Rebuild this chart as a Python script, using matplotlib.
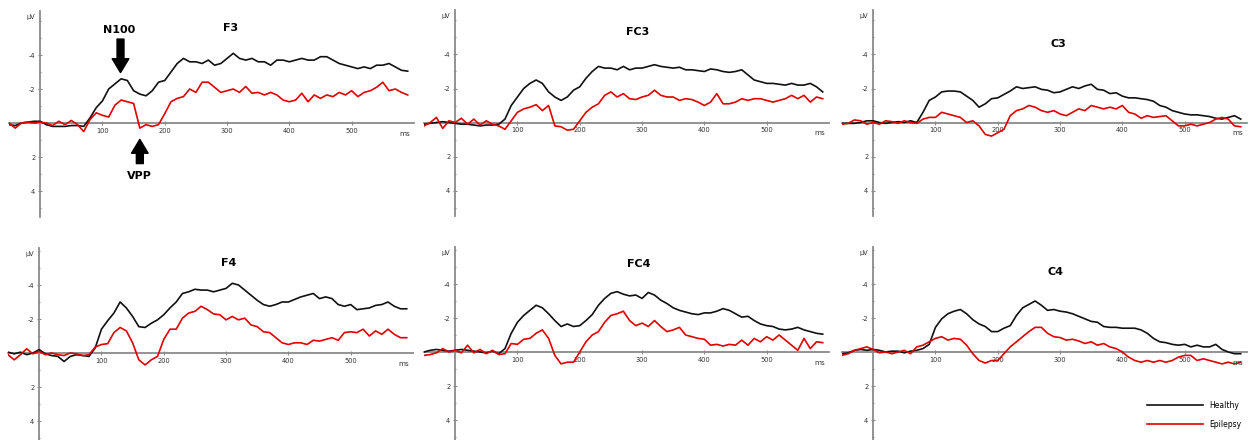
import numpy as np
import matplotlib
matplotlib.use('Agg')
from matplotlib import pyplot as plt

# время, мс (шаг 10 мс)
t_ms = np.arange(-50, 600, 10)

# значения в мкВ (негатив вверх)
f3_healthy = [0.1, 0.15, 0.0, -0.05, -0.1, -0.1, 0.1, 0.2, 0.2, 0.2,
              0.15, 0.15, 0.2, -0.3, -0.9, -1.3, -2.0, -2.3, -2.6, -2.5,
              -1.9, -1.7, -1.6, -1.9, -2.4, -2.5, -3.0, -3.5, -3.8, -3.6,
              -3.6, -3.5, -3.7, -3.4, -3.5, -3.8, -4.1, -3.8, -3.7, -3.8,
              -3.6, -3.6, -3.4, -3.7, -3.7, -3.6, -3.7, -3.8, -3.7, -3.7,
              -3.9, -3.9, -3.7, -3.5, -3.4, -3.3, -3.2, -3.3, -3.2, -3.4,
              -3.4, -3.5, -3.3, -3.1, -3.05]
f3_epilepsy = [0.0, 0.3, 0.0, -0.05, 0.0, -0.05, 0.0, 0.15, -0.1, 0.1,
               -0.15, 0.1, 0.5, -0.2, -0.6, -0.45, -0.35, -1.05, -1.35, -1.25,
               -1.15, 0.3, 0.1, 0.2, 0.1, -0.55, -1.25, -1.45, -1.55, -2.0,
               -1.8, -2.4, -2.4, -2.1, -1.8, -1.9, -2.0, -1.8, -2.15, -1.75,
               -1.8, -1.65, -1.8, -1.65, -1.35, -1.25, -1.35, -1.75, -1.25, -1.65,
               -1.45, -1.65, -1.55, -1.8, -1.65, -1.9, -1.55, -1.8, -1.9, -2.1,
               -2.4, -1.9, -2.0, -1.8, -1.65]

fc3_healthy = [0.1, 0.05, 0.0, -0.05, 0.0, 0.05, 0.1, 0.1, 0.15, 0.2,
               0.15, 0.15, 0.1, -0.2, -1.0, -1.5, -2.0, -2.3, -2.5, -2.3,
               -1.8, -1.5, -1.3, -1.5, -1.9, -2.1, -2.6, -3.0, -3.3, -3.2,
               -3.2, -3.1, -3.3, -3.1, -3.2, -3.2, -3.3, -3.4, -3.3, -3.25,
               -3.2, -3.25, -3.1, -3.1, -3.05, -3.0, -3.15, -3.1, -3.0, -2.95,
               -3.0, -3.1, -2.8, -2.5, -2.4, -2.3, -2.3, -2.25, -2.2, -2.3,
               -2.2, -2.2, -2.3, -2.1, -1.8]
fc3_epilepsy = [0.2, 0.0, -0.3, 0.35, -0.1, 0.0, -0.25, 0.1, -0.2, 0.15,
                -0.1, 0.1, 0.2, 0.4, -0.1, -0.6, -0.8, -0.9, -1.05, -0.7,
                -1.0, 0.2, 0.25, 0.45, 0.4, -0.1, -0.6, -0.9, -1.1, -1.6,
                -1.8, -1.5, -1.7, -1.4, -1.35, -1.5, -1.6, -1.9, -1.6, -1.5,
                -1.5, -1.3, -1.4, -1.35, -1.2, -1.0, -1.2, -1.7, -1.1, -1.1,
                -1.2, -1.4, -1.3, -1.4, -1.4, -1.3, -1.2, -1.3, -1.4, -1.6,
                -1.4, -1.6, -1.2, -1.5, -1.4]

c3_healthy = [0.05, 0.05, 0.05, 0.0, -0.1, -0.1, 0.0, 0.05, 0.0, -0.05,
              0.0, -0.1, 0.0, -0.6, -1.3, -1.5, -1.8, -1.85, -1.85, -1.8,
              -1.55, -1.3, -0.9, -1.1, -1.4, -1.45, -1.65, -1.85, -2.1, -2.0,
              -2.05, -2.1, -1.95, -1.9, -1.75, -1.8, -1.95, -2.1, -2.0, -2.15,
              -2.25, -1.95, -1.9, -1.7, -1.75, -1.55, -1.45, -1.45, -1.4, -1.35,
              -1.25, -1.0, -0.9, -0.7, -0.6, -0.5, -0.45, -0.45, -0.4, -0.35,
              -0.25, -0.2, -0.3, -0.4, -0.2]
c3_epilepsy = [0.1, 0.05, -0.15, -0.1, 0.1, 0.0, 0.1, -0.1, -0.05, 0.05,
               -0.1, 0.0, 0.05, -0.2, -0.3, -0.3, -0.6, -0.5, -0.4, -0.3,
               0.0, -0.1, 0.2, 0.7, 0.8, 0.6, 0.4, -0.4, -0.7, -0.8,
               -1.0, -0.9, -0.7, -0.6, -0.7, -0.5, -0.4, -0.6, -0.8, -0.7,
               -1.0, -0.9, -0.8, -0.9, -0.8, -1.0, -0.6, -0.5, -0.25, -0.4,
               -0.3, -0.35, -0.4, -0.1, 0.2, 0.2, 0.1, 0.2, 0.1, 0.0,
               -0.2, -0.3, -0.2, 0.2, 0.25]

f4_healthy = [-0.05, 0.05, -0.05, 0.1, 0.0, -0.2, 0.05, 0.15, 0.2, 0.5,
              0.2, 0.1, 0.15, 0.2, -0.3, -1.4, -1.9, -2.35, -3.0, -2.65,
              -2.15, -1.55, -1.5, -1.75, -1.95, -2.25, -2.65, -3.0, -3.5, -3.6,
              -3.75, -3.7, -3.7, -3.6, -3.7, -3.8, -4.1, -4.0, -3.7, -3.4,
              -3.1, -2.85, -2.75, -2.85, -3.0, -3.0, -3.15, -3.3, -3.4, -3.5,
              -3.2, -3.3, -3.2, -2.85, -2.75, -2.85, -2.55, -2.6, -2.65, -2.8,
              -2.85, -3.0, -2.75, -2.6, -2.6]
f4_epilepsy = [0.1, 0.4, 0.1, -0.25, 0.05, -0.1, 0.1, 0.0, 0.1, 0.15,
               0.0, 0.05, 0.15, 0.1, -0.35, -0.5, -0.55, -1.2, -1.5, -1.3,
               -0.6, 0.4, 0.7, 0.4, 0.2, -0.8, -1.4, -1.4, -2.05, -2.35,
               -2.45, -2.75, -2.55, -2.3, -2.25, -1.95, -2.15, -1.95, -2.05, -1.65,
               -1.55, -1.25, -1.2, -0.9, -0.6, -0.5, -0.6, -0.6, -0.5, -0.75,
               -0.7, -0.8, -0.9, -0.75, -1.2, -1.25, -1.2, -1.4, -1.0, -1.3,
               -1.1, -1.4, -1.1, -0.9, -0.9]

fc4_healthy = [0.0, -0.1, -0.15, -0.1, -0.05, -0.1, -0.15, -0.1, -0.05, 0.0,
               0.05, -0.05, 0.1, -0.2, -1.1, -1.75, -2.15, -2.45, -2.75, -2.6,
               -2.25, -1.85, -1.5, -1.65, -1.5, -1.55, -1.85, -2.2, -2.75, -3.15,
               -3.45, -3.55, -3.4, -3.3, -3.35, -3.15, -3.5, -3.35, -3.05, -2.85,
               -2.6, -2.45, -2.35, -2.25, -2.2, -2.3, -2.3, -2.4, -2.55, -2.45,
               -2.25, -2.05, -2.1, -1.85, -1.65, -1.55, -1.5, -1.35, -1.3, -1.35,
               -1.45, -1.3, -1.2, -1.1, -1.05]
fc4_epilepsy = [0.2, 0.15, 0.05, -0.2, 0.0, -0.1, 0.05, -0.4, 0.05, -0.15,
                0.1, -0.1, 0.15, 0.1, -0.5, -0.45, -0.75, -0.8, -1.1, -1.3,
                -0.8, 0.2, 0.7, 0.6, 0.6, 0.0, -0.6, -1.0, -1.2, -1.75,
                -2.15, -2.25, -2.4, -1.85, -1.55, -1.7, -1.5, -1.85, -1.5, -1.2,
                -1.3, -1.45, -1.0, -0.9, -0.8, -0.75, -0.4, -0.45, -0.35, -0.45,
                -0.4, -0.7, -0.4, -0.8, -0.6, -0.9, -0.7, -1.0, -0.7, -0.4,
                -0.1, -0.8, -0.2, -0.6, -0.55]

c4_healthy = [0.1, 0.05, -0.1, -0.15, -0.1, -0.15, -0.1, 0.0, -0.05, -0.05,
              0.05, -0.05, -0.1, -0.2, -0.45, -1.45, -1.95, -2.25, -2.4, -2.5,
              -2.25, -1.9, -1.65, -1.5, -1.2, -1.2, -1.4, -1.55, -2.15, -2.6,
              -2.8, -3.0, -2.75, -2.45, -2.5, -2.4, -2.35, -2.25, -2.1, -1.95,
              -1.8, -1.75, -1.5, -1.45, -1.45, -1.4, -1.4, -1.4, -1.3, -1.1,
              -0.8, -0.6, -0.55, -0.45, -0.4, -0.45, -0.3, -0.4, -0.3, -0.3,
              -0.45, -0.15, 0.0, 0.1, 0.1]
c4_epilepsy = [0.2, 0.1, -0.1, -0.2, -0.3, -0.15, 0.05, 0.0, 0.1, 0.0,
               -0.1, 0.1, -0.3, -0.4, -0.6, -0.8, -0.9, -0.7, -0.8, -0.75,
               -0.4, 0.1, 0.5, 0.65, 0.5, 0.5, 0.1, -0.3, -0.6, -0.9,
               -1.2, -1.45, -1.45, -1.1, -0.9, -0.85, -0.7, -0.75, -0.65, -0.5,
               -0.6, -0.4, -0.5, -0.3, -0.2, 0.0, 0.3, 0.5, 0.6, 0.5,
               0.6, 0.5, 0.6, 0.5, 0.3, 0.2, 0.2, 0.5, 0.4, 0.5,
               0.6, 0.7, 0.6, 0.7, 0.6]

titles = ['F3', 'FC3', 'C3', 'F4', 'FC4', 'C4']
healthy = [f3_healthy, fc3_healthy, c3_healthy, f4_healthy, fc4_healthy, c4_healthy]
epilepsy = [f3_epilepsy, fc3_epilepsy, c3_epilepsy, f4_epilepsy, fc4_epilepsy, c4_epilepsy]
x_ticks = [100, 200, 300, 400, 500]
y_ticks = [-4, -2, 2, 4]

# раскладка в пикселях: левый край осей, положение нуля, пределы по y (мкВ)
W, H = 1253, 440
lefts = [9, 424, 842, 8, 424, 842]
zero_px = [123, 122.5, 122.5, 353, 352, 352]
ylims = [(5.5, -6.6)] * 3 + [(5.3, -6.2)] * 3
title_pos = [(305, -5.6), (293, -5.3), (297, -4.6), (305, -5.3), (295, -5.2), (293, -4.7)]
px_ms = 0.623
px_uv = 17.0

fig = plt.figure(figsize=(W / 100, H / 100), dpi=100)
grey = '#8a8a8a'
axes = []
for i in range(6):
    lo, hi = ylims[i]
    top = zero_px[i] + hi * px_uv
    bot = zero_px[i] + lo * px_uv
    w = 650 * px_ms
    ax = fig.add_axes([lefts[i] / W, 1 - bot / H, w / W, (bot - top) / H])
    ax.set_xlim(-50, 600)
    ax.set_ylim(lo, hi)
    ax.patch.set_alpha(0)

    ax.plot(t_ms, healthy[i], color='#111111', lw=1.2, zorder=3, label='Healthy')
    ax.plot(t_ms, epilepsy[i], color='#e00000', lw=1.2, zorder=3, label='Epilepsy')

    for s in ['top', 'right']:
        ax.spines[s].set_visible(False)
    ax.spines['left'].set_position(('data', 0))
    ax.spines['bottom'].set_position(('data', 0))
    for s in ['left', 'bottom']:
        ax.spines[s].set_color(grey)
        ax.spines[s].set_linewidth(1.3)

    ax.set_xticks(x_ticks)
    ax.set_yticks(y_ticks)
    ax.set_yticks([-6, -5, -3, -1, 1, 3, 5], minor=True)
    ax.tick_params(axis='both', which='both', colors=grey, labelcolor='#333333',
                   labelsize=4.8, direction='inout', length=3, width=0.8, pad=2)
    ax.tick_params(axis='y', which='minor', length=2)
    ax.set_yticklabels([str(v) for v in y_ticks])

    ax.text(-8, hi + 0.35, 'µV', fontsize=4.8, color='#333333', ha='right', va='center')
    ax.text(586, 0.45, 'ms', fontsize=5.2, color='#333333', ha='center', va='top')
    ax.text(title_pos[i][0], title_pos[i][1], titles[i], fontsize=8, fontweight='bold',
            ha='center', va='center')
    axes.append(ax)

# стрелки N100 / VPP на F3
ax = axes[0]
arrow = dict(arrowstyle='simple,head_width=1.2,head_length=1.0,tail_width=0.5',
             color='black', mutation_scale=10)
ax.annotate('', xy=(129, -2.8), xytext=(129, -5.1), arrowprops=arrow)
ax.annotate('', xy=(160, 0.8), xytext=(160, 2.55), arrowprops=arrow)
ax.text(127, -5.5, 'N100', fontsize=8, fontweight='bold', ha='center', va='center')
ax.text(160, 3.1, 'VPP', fontsize=8, fontweight='bold', ha='center', va='center')

# легенда
h, l = axes[5].get_legend_handles_labels()
fig.legend(h, l, loc='upper left', bbox_to_anchor=(1147 / W, 1 - 401 / H),
           frameon=False, fontsize=5.5, handlelength=7.3, handletextpad=0.8,
           labelspacing=1.3, borderpad=0, borderaxespad=0)

fig.savefig('out.png', dpi=100)
